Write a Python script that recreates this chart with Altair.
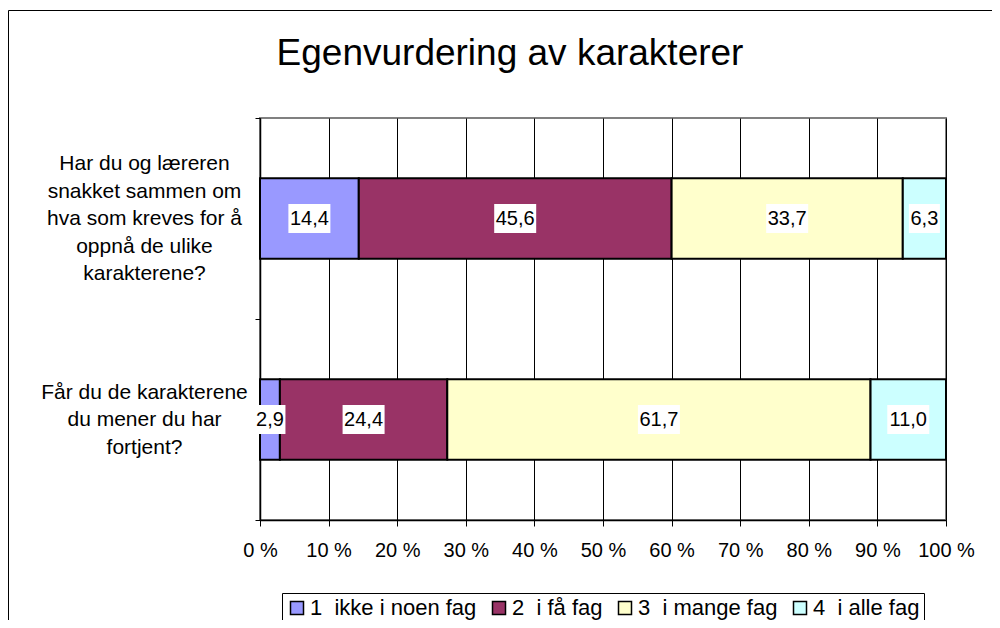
import altair as alt
import pandas as pd

# ---- data ----
questions = [
    "Har du og læreren|snakket sammen om|hva som kreves for å|oppnå de ulike|karakterene?",
    "Får du de karakterene|du mener du har|fortjent?",
]
categories = ["1\u00a0 ikke i noen fag", "2\u00a0 i få fag", "3\u00a0 i mange fag", "4\u00a0 i alle fag"]
values_q1 = [14.4, 45.6, 33.7, 6.3]
values_q2 = [2.9, 24.4, 61.7, 11.0]
colors = ["#9999FF", "#993366", "#FFFFCC", "#CCFFFF"]
x_ticks = [0, 10, 20, 30, 40, 50, 60, 70, 80, 90, 100]

W, H = 686, 402
FONT = "Liberation Sans"

rows = []
for q, vals in zip(questions, [values_q1, values_q2]):
    for i, (c, v) in enumerate(zip(categories, vals)):
        rows.append({"question": q, "category": c, "value": v, "order": i,
                     "label": f"{v:.1f}".replace(".", ",")})
df = pd.DataFrame(rows)

xscale = alt.Scale(domain=[0, 100], nice=False)
xaxis = alt.Axis(values=x_ticks, labelExpr="datum.value + ' %'", title=None,
                 grid=True, gridColor="#000000", gridWidth=1,
                 domainColor="#000000", domainWidth=1.5, tickColor="#000000",
                 tickSize=6, tickWidth=1, labelFontSize=20, labelPadding=14,
                 labelOverlap=False, labelFlush=False,
                 labelColor="#000000", labelFont=FONT)
yscale = alt.Scale(paddingInner=0, paddingOuter=0)
yaxis = alt.Axis(title=None, tickBand="extent", tickSize=5, tickColor="#000000",
                 domainColor="#000000", domainWidth=1.5, grid=False,
                 labelExpr="split(datum.label, '|')", labelAlign="center",
                 labelBaseline="middle", labelPadding=111, labelLineHeight=27.5,
                 labelOffset={"condition": {"test": "length(split(datum.label, '|')) == 3",
                                            "value": -27.5},
                              "value": -55},
                 labelFontSize=21, labelLimit=300, labelColor="#000000", labelFont=FONT)
Y = alt.Y("question:N", sort=questions, scale=yscale, axis=yaxis)

base = alt.Chart(df).transform_stack(
    stack="value", groupby=["question"],
    sort=[alt.SortField(field="order", order="ascending")], as_=["x0", "x1"]
).transform_calculate(
    mid="(datum.x0 + datum.x1) / 2",
    hw=f"(11 * length(datum.label) - 2) / 2 * 100 / {W}",
).transform_calculate(
    bx0="datum.mid - datum.hw",
    bx1="datum.mid + datum.hw",
)

bars = base.mark_bar(height={"band": 0.4}, stroke="black", strokeWidth=2).encode(
    x=alt.X("x0:Q", scale=xscale, axis=xaxis),
    x2="x1:Q",
    y=Y,
    color=alt.Color("category:N", scale=alt.Scale(domain=categories, range=colors),
                    legend=alt.Legend(orient="none", legendX=22, legendY=475,
                                      direction="horizontal", title=None,
                                      strokeColor="black", padding=4,
                                      labelFontSize=22, labelFont=FONT, labelColor="#000000",
                                      labelLimit=300, symbolType="square", symbolSize=169,
                                      symbolStrokeColor="black", symbolStrokeWidth=1.5,
                                      symbolOpacity=1, labelOffset=2, columnPadding=11)),
    order=alt.Order("order:Q"),
)

boxes = base.mark_bar(height=29, fill="white", strokeWidth=0).encode(
    x=alt.X("bx0:Q", scale=xscale, axis=xaxis),
    x2="bx1:Q",
    y=Y,
)

labels = base.mark_text(fontSize=20, font=FONT, color="black", baseline="middle").encode(
    x=alt.X("mid:Q", scale=xscale, axis=xaxis),
    y=Y,
    text="label:N",
)

frame_df = pd.DataFrame({"k": [0]})
border_top = alt.Chart(frame_df).mark_rule(stroke="black", strokeWidth=1).encode(
    x=alt.value(-251.5), x2=alt.value(760), y=alt.value(-107.5)
)
border_left = alt.Chart(frame_df).mark_rule(stroke="black", strokeWidth=1).encode(
    x=alt.value(-251.5), y=alt.value(-107.5), y2=alt.value(530)
)

chart = alt.layer(border_top, border_left, bars, boxes, labels).properties(
    width=W, height=H,
    title=alt.TitleParams("Egenvurdering av karakterer", fontSize=37, font=FONT,
                          fontWeight="normal", anchor="middle", frame="group",
                          dx=-93, offset=-92, baseline="alphabetic", color="#000000"),
    padding={"left": 252, "top": 110, "right": 46, "bottom": 100},
    autosize=alt.AutoSizeParams(type="none"),
).configure(font=FONT).configure_view(stroke="#808080", strokeWidth=2)

chart.save("out.html", embed_options={"renderer": "svg", "actions": False})
